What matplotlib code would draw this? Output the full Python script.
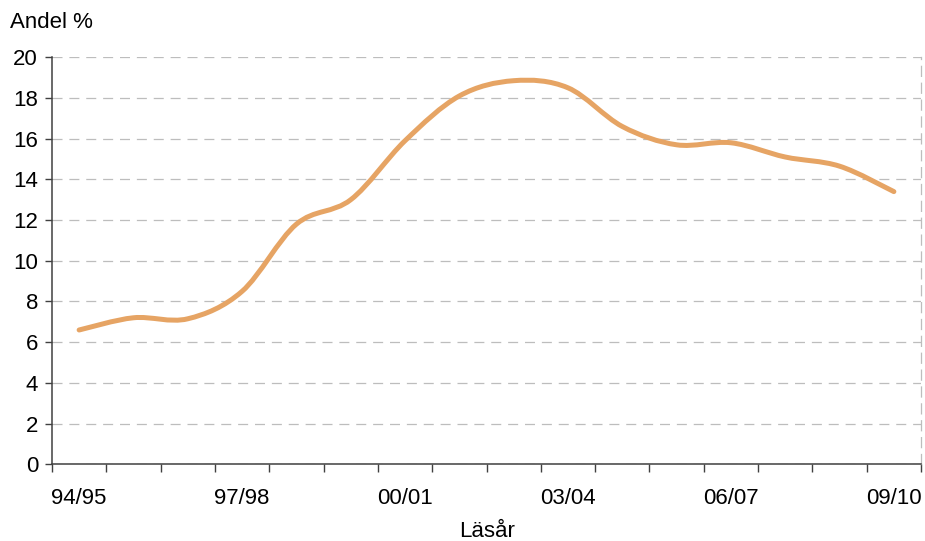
import numpy as np
import matplotlib
matplotlib.use("Agg")
import matplotlib.pyplot as plt
from matplotlib.path import Path
from matplotlib.patches import PathPatch

plt.rcParams['font.family'] = ['Liberation Sans', 'DejaVu Sans']

years = ["94/95", "95/96", "96/97", "97/98", "98/99", "99/00", "00/01", "01/02",
         "02/03", "03/04", "04/05", "05/06", "06/07", "07/08", "08/09", "09/10"]
andel = [6.6, 7.2, 7.15, 8.5, 11.8, 13.0, 15.9, 18.1,
         18.85, 18.5, 16.6, 15.7, 15.8, 15.1, 14.65, 13.4]
shown_labels = ["94/95", "97/98", "00/01", "03/04", "06/07", "09/10"]

line_color = "#E6A464"


def smooth_path(xs, ys):
    # bezier smoothing like Excel's "smoothed line"
    pts = np.column_stack([xs, ys]).astype(float)
    n = len(pts)
    verts = [pts[0]]
    codes = [Path.MOVETO]
    for i in range(n - 1):
        p_prev = pts[i - 1] if i > 0 else pts[i]
        p_next2 = pts[i + 2] if i + 2 < n else pts[i + 1]
        c1 = pts[i] + (pts[i + 1] - p_prev) / 6.0
        c2 = pts[i + 1] - (p_next2 - pts[i]) / 6.0
        verts += [c1, c2, pts[i + 1]]
        codes += [Path.CURVE4] * 3
    return Path(verts, codes)


fig = plt.figure(figsize=(9.25, 5.41), dpi=100)
ax = fig.add_axes([0.0562, 0.1418, 0.9395, 0.7523])

x = np.arange(len(years))
ax.add_patch(PathPatch(smooth_path(x, andel), facecolor='none', edgecolor=line_color,
                       lw=3.6, capstyle='round', joinstyle='round', zorder=3))

ax.set_xlim(-0.5, len(years) - 0.5)
ax.set_ylim(0, 20)
ax.set_yticks(np.arange(0, 21, 2))
ax.yaxis.grid(True, color='#BDBDBD', linestyle=(0, (8, 5.5)), lw=0.9)
ax.set_axisbelow(True)

label_pos = [years.index(s) for s in shown_labels]
ax.set_xticks(label_pos)
ax.set_xticklabels(shown_labels)
ax.set_xticks(np.arange(-0.5, len(years), 1), minor=True)
ax.tick_params(axis='x', which='major', length=0, pad=17, labelsize=16)
ax.tick_params(axis='x', which='minor', length=6, width=1, color='#404040', direction='out')
ax.tick_params(axis='y', length=5, width=1, color='#404040', labelsize=16, pad=5)

for s in ['left', 'bottom']:
    ax.spines[s].set_color('#404040')
    ax.spines[s].set_linewidth(1.1)
ax.spines['top'].set_visible(False)
ax.spines['right'].set_color('#BDBDBD')
ax.spines['right'].set_linestyle((0, (8, 5.5)))
ax.spines['right'].set_linewidth(0.9)

fig.text(0.527, 0.017, "Läsår", ha='center', va='center', fontsize=16)
fig.text(0.011, 0.958, "Andel %", ha='left', va='center', fontsize=16)

fig.savefig("out.png", dpi=100)
